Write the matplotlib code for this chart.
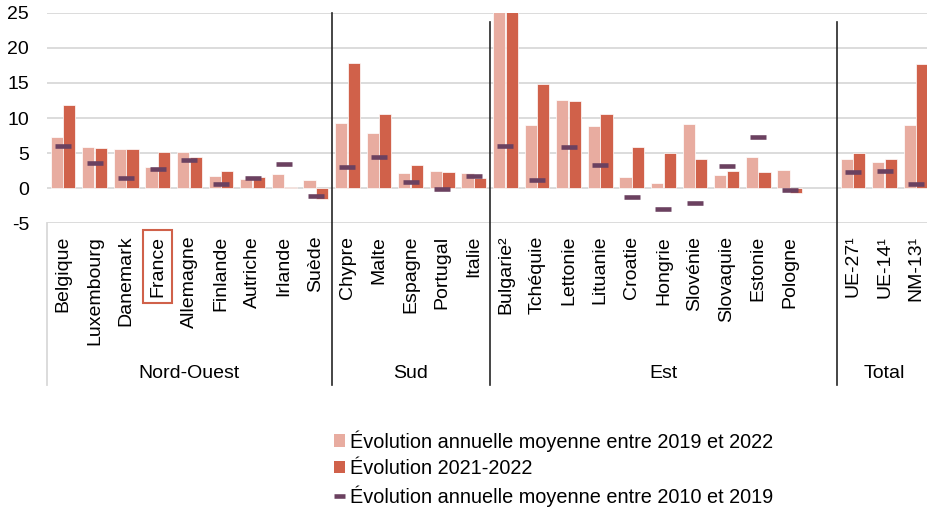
import matplotlib
matplotlib.use("Agg")
import matplotlib.pyplot as plt
import matplotlib.transforms as mtransforms
from matplotlib.patches import Patch
from matplotlib.lines import Line2D
import numpy as np

plt.rcParams['font.family'] = ['Liberation Sans', 'DejaVu Sans']
plt.rcParams['axes.unicode_minus'] = False

# groupes de pays
groups = ["Nord-Ouest", "Sud", "Est", "Total"]
countries = [
    ["Belgique", "Luxembourg", "Danemark", "France", "Allemagne",
     "Finlande", "Autriche", "Irlande", "Suède"],
    ["Chypre", "Malte", "Espagne", "Portugal", "Italie"],
    ["Bulgarie²", "Tchéquie", "Lettonie", "Lituanie", "Croatie",
     "Hongrie", "Slovénie", "Slovaquie", "Estonie", "Pologne"],
    ["UE-27¹", "UE-14¹", "NM-13¹"],
]

# évolution annuelle moyenne 2019-2022 (%)
evol_19_22 = [
    [7.35, 5.9, 5.55, 3.0, 5.15, 1.75, 1.3, 2.0, 1.2],
    [9.25, 7.8, 2.1, 2.45, 2.2],
    [27.0, 9.05, 12.55, 8.8, 1.6, 0.75, 9.15, 1.9, 4.4, 2.6],
    [4.1, 3.75, 9.0],
]
# évolution 2021-2022 (%)
evol_21_22 = [
    [11.85, 5.75, 5.65, 5.15, 4.4, 2.45, 1.65, 0.2, -1.5],
    [17.8, 10.55, 3.3, 2.25, 1.4],
    [33.0, 14.9, 12.4, 10.5, 5.9, 4.95, 4.1, 2.4, 2.3, -0.75],
    [5.0, 4.1, 17.75],
]
# évolution annuelle moyenne 2010-2019 (%)
evol_10_19 = [
    [6.05, 3.55, 1.5, 2.7, 4.0, 0.65, 1.4, 3.45, -1.05],
    [3.0, 4.4, 0.95, -0.05, 1.75],
    [5.95, 1.2, 5.8, 3.25, -1.2, -2.9, -2.05, 3.2, 7.25, -0.2],
    [2.35, 2.45, 0.65],
]

pale = "#E8ACA0"
dark = "#D0614A"
plum = "#6B4160"
grid = "#D9D9D9"

# positions : une case vide entre Est et Total
pos, labels, v1, v2, v3 = [], [], [], [], []
bounds = []
x = 0
for g in range(len(groups)):
    start = x
    for i, c in enumerate(countries[g]):
        pos.append(x)
        labels.append(c)
        v1.append(evol_19_22[g][i])
        v2.append(evol_21_22[g][i])
        v3.append(evol_10_19[g][i])
        x += 1
    if groups[g] == "Est":
        x += 1
    bounds.append((start - 0.5, x - 0.5))
pos = np.array(pos)

fig = plt.figure(figsize=(9.27, 5.07), dpi=100)
ax = fig.add_axes([47.2 / 927, 1 - 223.3 / 507, 884.8 / 927, 210.6 / 507])

w = 0.39
ax.bar(pos - 0.2, v1, width=w, color=pale, edgecolor="white", linewidth=0.5, zorder=2)
ax.bar(pos + 0.2, v2, width=w, color=dark, edgecolor="white", linewidth=0.5, zorder=2)
ax.plot(pos, v3, ls="none", marker="_", ms=11, mew=3.3, color=plum, zorder=3)

ax.set_ylim(-5, 25)
ax.set_xlim(-0.5, 27.5)
ax.set_yticks(range(-5, 26, 5))
ax.yaxis.grid(True, color=grid, linewidth=1.3, zorder=0)
ax.set_axisbelow(True)
for s in ax.spines.values():
    s.set_visible(False)
ax.tick_params(axis="y", length=0, pad=13, labelsize=14)
ax.set_xticks(pos)
ax.set_xticklabels(labels, rotation=90, fontsize=14)
ax.tick_params(axis="x", length=0, pad=9)

fr = ax.get_xticklabels()[labels.index("France")]
fr.set_bbox(dict(boxstyle="square,pad=0.3", facecolor="none", edgecolor=dark, linewidth=1.5))

trans = mtransforms.blended_transform_factory(ax.transData, ax.transAxes)
y_bot = (223.3 - 385) / 210.6
# séparateurs de groupes
for k, (a, b) in enumerate(bounds[:-1]):
    top = 1.0 if k == 0 else 0.956
    ax.plot([b, b], [y_bot, top], color="#262626", lw=1.2, transform=trans,
            clip_on=False, zorder=4)
ax.plot([-0.5, -0.5], [y_bot, 0], color=grid, lw=1.3, transform=trans, clip_on=False)

for g, (a, b) in zip(groups, bounds):
    ax.text((a + b) / 2, (223.3 - 373) / 210.6, g, transform=trans,
            ha="center", va="center", fontsize=14)

handles = [
    Patch(facecolor=pale, edgecolor="none"),
    Patch(facecolor=dark, edgecolor="none"),
    Line2D([0], [0], color=plum, lw=3.3, solid_capstyle="butt"),
]
leg_labels = [
    "Évolution annuelle moyenne entre 2019 et 2022",
    "Évolution 2021-2022",
    "Évolution annuelle moyenne entre 2010 et 2019",
]
fig.legend(handles, leg_labels, loc="upper left", bbox_to_anchor=(334 / 927, 1 - 430 / 507),
           frameon=False, fontsize=14.3, handlelength=0.55, handleheight=0.6,
           handletextpad=0.25, labelspacing=0.38, borderpad=0, borderaxespad=0)

fig.savefig("out.png", dpi=100)
